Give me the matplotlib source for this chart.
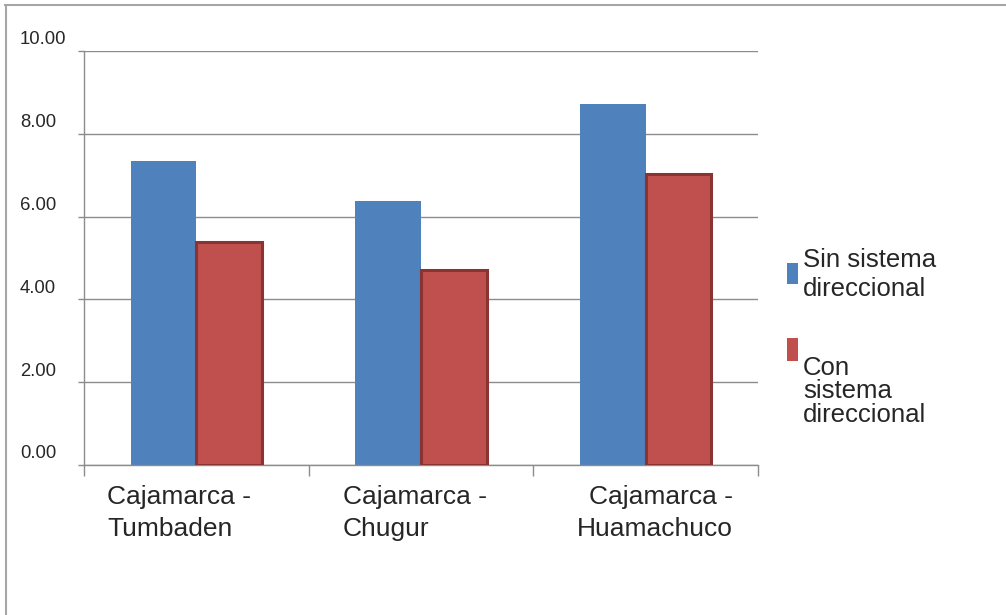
import matplotlib.pyplot as plt
import matplotlib.transforms as mtransforms
from matplotlib.patches import Rectangle
from matplotlib.lines import Line2D
import numpy as np

# Datos
categorias = ["Cajamarca -\nTumbaden", "Cajamarca -\nChugur", "Cajamarca -\nHuamachuco"]
sin_sistema = [7.34, 6.37, 8.71]
con_sistema = [5.39, 4.72, 7.02]
series = ["Sin sistema\ndireccional", "Con\nsistema\ndireccional"]
y_ticks = [0, 2, 4, 6, 8, 10]

AZUL = "#4f81bd"
ROJO = "#c0504d"
ROJO_BORDE = "#8a3431"
GRIS = "#8c8c8c"
TEXTO = "#262626"

plt.rcParams["font.family"] = ["Liberation Sans", "DejaVu Sans"]

W, H = 1006, 615
fig = plt.figure(figsize=(W / 100, H / 100), dpi=100)


def px(x, y):
    # pixel (desde arriba a la izquierda) -> fraccion de figura
    return x / W, 1 - y / H


ax = fig.add_axes([84 / W, 1 - 465 / H, (758 - 84) / W, (465 - 51) / H])

x = np.arange(len(categorias))
ancho = 0.293
ax.bar(x - ancho / 2, sin_sistema, ancho, color=AZUL, zorder=2)
ax.bar(x + ancho / 2, con_sistema, ancho, color=ROJO, edgecolor=ROJO_BORDE,
       linewidth=2.2, zorder=3)

ax.set_xlim(-0.5, len(categorias) - 0.5)
ax.set_ylim(0, 10)
ax.set_axisbelow(True)

# ejes y rejilla
for s in ["top", "right"]:
    ax.spines[s].set_visible(False)
for s in ["left", "bottom"]:
    ax.spines[s].set_color(GRIS)
    ax.spines[s].set_linewidth(1)
ax.set_yticks(y_ticks)
ax.set_yticklabels([])
ax.yaxis.grid(True, color=GRIS, linewidth=1)
ax.tick_params(axis="y", length=4, color=GRIS, width=1)

ax.set_xticks(x)
ax.set_xticklabels([])
ax.set_xticks(np.arange(len(categorias) + 1) - 0.5, minor=True)
ax.tick_params(axis="x", which="major", length=0)
ax.tick_params(axis="x", which="minor", length=8, color=GRIS, width=1)

# etiquetas del eje y
trans_y = mtransforms.blended_transform_factory(fig.transFigure, ax.transData)
trans_y = trans_y + mtransforms.ScaledTranslation(0, 8 / 72, fig.dpi_scale_trans)
for v in y_ticks:
    ax.text(20 / W, v, f"{v:.2f}", transform=trans_y, ha="left", va="center",
            fontsize=13.3, color=TEXTO)

# etiquetas de categorias
desplaz = [-17, -6, 9]
alineacion = ["left", "left", "right"]
for i, lab in enumerate(categorias):
    ax.annotate(lab, xy=(i, 0), xycoords=("data", "axes fraction"),
                xytext=(desplaz[i], -20), textcoords="offset pixels",
                ha="center", va="top", multialignment=alineacion[i],
                fontsize=19, color=TEXTO, linespacing=1.4)

# leyenda
colores = [AZUL, ROJO]
cajas = [(787, 263, 11, 21), (787, 338, 11, 23)]
textos_y = [248, 356]
interlineado = [1.25, 0.97]
for nombre, c, (bx, by, bw, bh), ty, ls in zip(series, colores, cajas, textos_y, interlineado):
    x0, y0 = px(bx, by + bh)
    fig.add_artist(Rectangle((x0, y0), bw / W, bh / H, transform=fig.transFigure,
                             facecolor=c, edgecolor="none"))
    tx, tyf = px(803, ty)
    fig.text(tx, tyf, nombre, ha="left", va="top", fontsize=18.5,
             color=TEXTO, linespacing=ls)

# marco
fig.add_artist(Line2D([5 / W, 1], [1 - 5 / H, 1 - 5 / H], transform=fig.transFigure,
                      color="#a6a6a6", linewidth=1.5))
fig.add_artist(Line2D([6 / W, 6 / W], [0, 1 - 5 / H], transform=fig.transFigure,
                      color="#a6a6a6", linewidth=1.5))

fig.savefig("out.png", dpi=100, facecolor="white")
